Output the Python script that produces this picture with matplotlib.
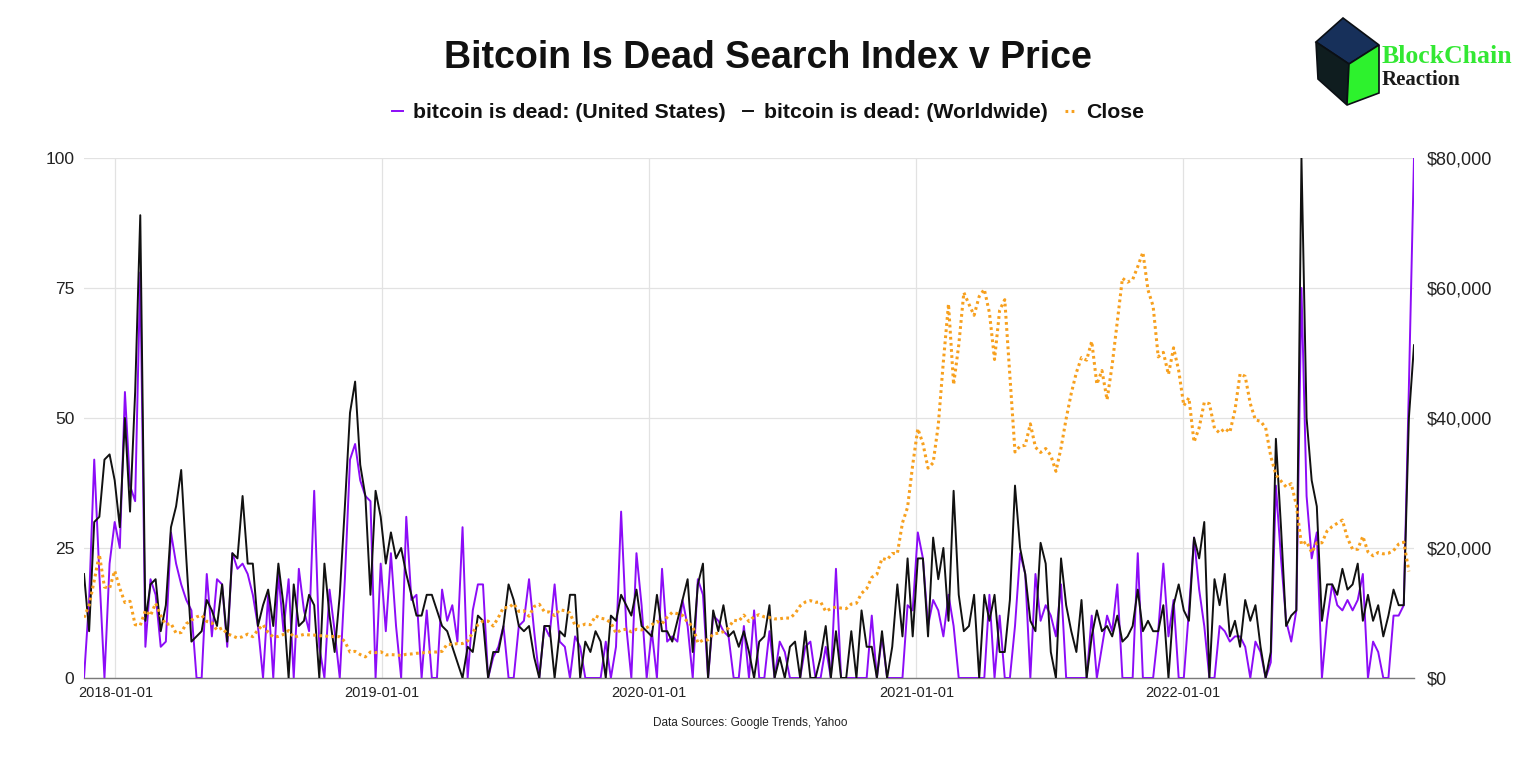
import matplotlib
matplotlib.use("Agg")
import matplotlib.pyplot as plt
import matplotlib.dates as mdates
from matplotlib.patches import Polygon
from matplotlib.ticker import FuncFormatter
import pandas as pd

plt.rcParams['font.family'] = ['Liberation Sans', 'DejaVu Sans']

# ---------------- data ----------------
start_date = "2017-11-19"
n_weeks = 261

us_search = [
    0, 15, 42, 20, 0, 22, 30, 25, 55, 37, 34, 78, 6, 19, 16, 6, 7, 28, 22, 18,
    15, 13, 0, 0, 20, 8, 19, 18, 6, 24, 21, 22, 20, 16, 10, 0, 16, 0, 20, 9,
    19, 0, 21, 13, 9, 36, 6, 0, 17, 9, 0, 19, 42, 45, 38, 35, 34, 0, 22, 9,
    24, 10, 0, 31, 15, 16, 0, 13, 0, 0, 17, 11, 14, 7, 29, 0, 13, 18, 18, 0,
    4, 6, 10, 0, 0, 10, 11, 19, 9, 0, 10, 8, 18, 7, 6, 0, 8, 6, 0, 0,
    0, 0, 7, 0, 6, 32, 10, 0, 24, 14, 0, 9, 0, 21, 7, 8, 7, 15, 10, 0,
    19, 16, 0, 12, 11, 9, 8, 0, 0, 10, 0, 13, 0, 0, 9, 0, 7, 5, 0, 0,
    0, 6, 7, 0, 0, 6, 0, 21, 0, 0, 0, 0, 0, 0, 12, 0, 8, 0, 0, 0,
    0, 14, 13, 28, 23, 10, 15, 13, 8, 16, 10, 0, 0, 0, 0, 0, 0, 16, 0, 12,
    0, 0, 10, 24, 20, 0, 20, 11, 14, 12, 8, 18, 0, 0, 0, 0, 0, 12, 0, 6,
    12, 9, 18, 0, 0, 0, 24, 0, 0, 0, 9, 22, 8, 15, 0, 0, 13, 27, 17, 10,
    0, 0, 10, 9, 7, 8, 8, 6, 0, 7, 5, 0, 3, 37, 23, 11, 7, 13, 75, 35,
    23, 28, 0, 11, 18, 14, 13, 15, 13, 15, 20, 0, 7, 5, 0, 0, 12, 12, 14, 56,
    100,
]

world_search = [
    20, 9, 30, 31, 42, 43, 38, 29, 50, 32, 55, 89, 11, 18, 19, 9, 14, 29, 33, 40,
    23, 7, 8, 9, 15, 13, 10, 18, 7, 24, 23, 35, 22, 22, 10, 14, 17, 10, 22, 14,
    0, 18, 10, 11, 16, 14, 0, 22, 12, 5, 16, 33, 51, 57, 41, 35, 16, 36, 31, 22,
    28, 23, 25, 20, 16, 12, 12, 16, 16, 13, 10, 9, 6, 3, 0, 6, 5, 12, 11, 0,
    5, 5, 10, 18, 15, 10, 9, 10, 4, 0, 10, 10, 0, 9, 8, 16, 16, 0, 7, 5,
    9, 7, 0, 12, 11, 16, 14, 12, 17, 10, 9, 8, 16, 9, 9, 7, 11, 15, 19, 5,
    18, 22, 0, 13, 9, 14, 8, 9, 6, 9, 5, 0, 7, 8, 14, 0, 4, 0, 6, 7,
    0, 9, 0, 0, 4, 10, 0, 9, 0, 0, 9, 0, 13, 6, 6, 0, 9, 0, 6, 18,
    8, 23, 8, 23, 23, 8, 27, 19, 25, 11, 36, 16, 9, 10, 16, 0, 16, 11, 16, 5,
    5, 15, 37, 25, 20, 11, 9, 26, 22, 5, 0, 23, 14, 9, 5, 15, 0, 8, 13, 9,
    10, 8, 12, 7, 8, 10, 17, 9, 11, 9, 9, 14, 0, 14, 18, 13, 11, 27, 23, 30,
    0, 19, 14, 20, 8, 11, 6, 15, 11, 14, 6, 0, 5, 46, 29, 10, 12, 13, 100, 50,
    38, 33, 11, 18, 18, 16, 21, 17, 18, 22, 11, 16, 11, 14, 8, 12, 17, 14, 14, 50,
    64,
]

close_price = [
    # 2017
    9300, 11200, 15000, 19000, 14000, 13800,
    # 2018
    16500, 13800, 11600, 11800, 8200, 8100, 10400, 9600, 11500, 9600,
    8200, 8400, 6900, 7000, 8350, 8900, 9400, 9650, 8700, 8500,
    7350, 7700, 6800, 6500, 6150, 6350, 6750, 6350, 7400, 8200,
    7000, 6300, 6400, 6700, 7300, 6250, 6500, 6700, 6630, 6600,
    6500, 6500, 6350, 6400, 6350, 5600, 4000, 4100, 3600, 3250,
    4000, 3900,
    # 2019
    4050, 3550, 3600, 3550, 3450, 3650, 3700, 3800, 3850, 3950,
    4000, 4000, 4100, 5200, 5150, 5300, 5300, 5700, 7000, 8200,
    8750, 8750, 8000, 9300, 10850, 10800, 11450, 10250, 10350, 9500,
    11000, 11350, 10200, 10150, 9600, 10500, 10350, 10000, 8050, 7980,
    8300, 8200, 9550, 9200, 9050, 8500, 6900, 7400, 7500, 7100,
    7500, 7400,
    # 2020
    7750, 8200, 8700, 8350, 9350, 10100, 9900, 9650, 8550, 8000,
    5400, 5830, 5880, 6780, 6900, 7120, 7700, 8900, 8750, 9680,
    8700, 9450, 9750, 9400, 9300, 9100, 9100, 9250, 9200, 9900,
    11100, 11680, 11900, 11650, 11700, 10250, 10680, 10920, 10750, 10670,
    11380, 11500, 13030, 13740, 15480, 15960, 18400, 18180, 19150, 19150,
    23870, 26270,
    # 2021
    32780, 38360, 36070, 32290, 33110, 38900, 48720, 57540, 45140, 51200,
    59300, 57500, 55800, 58700, 59800, 56200, 49000, 56600, 58200, 46400,
    34770, 35680, 35800, 39100, 35500, 34700, 35300, 34240, 31800, 35400,
    39900, 43800, 47000, 49300, 48900, 51800, 45200, 47300, 42800, 48200,
    54900, 61500, 60900, 61300, 63300, 65500, 59700, 57200, 49400, 50100,
    46700, 50800,
    # 2022
    47300, 41900, 43100, 36300, 38500, 42400, 42200, 38400, 37700, 38400,
    37800, 41200, 46800, 46400, 42200, 39700, 39500, 38500, 34100, 31300,
    30300, 29400, 29900, 26600, 20500, 21000, 19300, 20800, 20800, 22600,
    23300, 23800, 24300, 21500, 19800, 19800, 21800, 19400, 18800, 19300,
    19100, 19200, 19600, 20600, 20900, 16400,
]

year_ticks = ["2018-01-01", "2019-01-01", "2020-01-01", "2021-01-01", "2022-01-01"]
search_ticks = [0, 25, 50, 75, 100]
price_ticks = [0, 20000, 40000, 60000, 80000]

title = "Bitcoin Is Dead Search Index v Price"
label_us = "bitcoin is dead: (United States)"
label_world = "bitcoin is dead: (Worldwide)"
label_close = "Close"
source_text = "Data Sources: Google Trends, Yahoo"

# ---------------- figure ----------------
W, H = 1536, 768
fig = plt.figure(figsize=(W / 100, H / 100), dpi=100)
fig.patch.set_facecolor("white")

dates = pd.date_range(start_date, periods=n_weeks, freq="7D")
price_dates = dates[:len(close_price)]

L, R, T, B = 84, 1414, 158, 678
ax = fig.add_axes([L / W, 1 - B / H, (R - L) / W, (B - T) / H])
ax2 = ax.twinx()

purple = "#8C0CF7"
orange = "#F7A01E"

l_us, = ax.plot(dates, us_search, color=purple, lw=1.4, zorder=3, label=label_us)
l_w, = ax.plot(dates, world_search, color="#111111", lw=1.4, zorder=4, label=label_world)
l_c, = ax2.plot(price_dates, close_price, color=orange, lw=2.2, dashes=(0.9, 1.1),
                dash_capstyle="butt", zorder=5, label=label_close)

ax.set_xlim(dates[0], dates[-1])
ax.set_ylim(0, 100)
ax2.set_ylim(0, 80000)
ax.set_yticks(search_ticks)
ax2.set_yticks(price_ticks)
ax2.yaxis.set_major_formatter(FuncFormatter(lambda v, p: "${:,.0f}".format(v)))
ax.set_xticks(pd.to_datetime(year_ticks))
ax.xaxis.set_major_formatter(mdates.DateFormatter("%Y-%m-%d"))

ax.grid(True, color="#e2e2e2", lw=0.9)
ax.set_axisbelow(True)
for a in (ax, ax2):
    for s in a.spines.values():
        s.set_visible(False)
ax.spines["bottom"].set_visible(True)
ax.spines["bottom"].set_color("#7a7a7a")
ax.spines["bottom"].set_linewidth(1.0)

ax.tick_params(axis="y", length=0, pad=7, labelsize=12.5, labelcolor="#222222")
ax.tick_params(axis="x", length=0, pad=6, labelsize=10.5, labelcolor="#222222")
ax2.tick_params(axis="y", length=0, pad=9, labelsize=13, labelcolor="#222222")

# title, legend, source
fig.text(768 / W, 1 - 58 / H, title, ha="center", va="center",
         fontsize=27, fontweight="bold", color="#111111")
leg = fig.legend(handles=[l_us, l_w, l_c], loc="center", bbox_to_anchor=(768 / W, 1 - 113 / H),
                 ncol=3, frameon=False, handlelength=0.5, handletextpad=0.5,
                 columnspacing=0.8, prop={"weight": "bold", "size": 15.3})
for t in leg.get_texts():
    t.set_color("#111111")
fig.text(750 / W, 1 - 723 / H, source_text, ha="center", va="center",
         fontsize=8.5, color="#222222")

# logo
lax = fig.add_axes([0, 0, 1, 1], zorder=10)
lax.set_xlim(0, W)
lax.set_ylim(H, 0)
lax.axis("off")
lax.patch.set_alpha(0)
top_face = [(1343, 18), (1379, 45), (1349, 64), (1316, 42)]
left_face = [(1316, 42), (1349, 64), (1347, 105), (1318, 79)]
front_face = [(1349, 64), (1379, 45), (1379, 93), (1347, 105)]
lax.add_patch(Polygon(top_face, closed=True, facecolor="#17305a", edgecolor="#0b0f14", lw=1.2))
lax.add_patch(Polygon(left_face, closed=True, facecolor="#0f1d1f", edgecolor="#0b0f14", lw=1.2))
lax.add_patch(Polygon(front_face, closed=True, facecolor="#2df22d", edgecolor="#0b0f14", lw=1.2))
serif = ["Liberation Serif", "DejaVu Serif"]
lax.text(1382, 63, "BlockChain", family=serif, fontweight="bold",
         fontsize=18.5, color="#33e833", ha="left", va="baseline")
lax.text(1382, 85, "Reaction", family=serif, fontweight="bold",
         fontsize=15, color="#1a1a1a", ha="left", va="baseline")

fig.savefig("out.png", dpi=100, facecolor="white")
